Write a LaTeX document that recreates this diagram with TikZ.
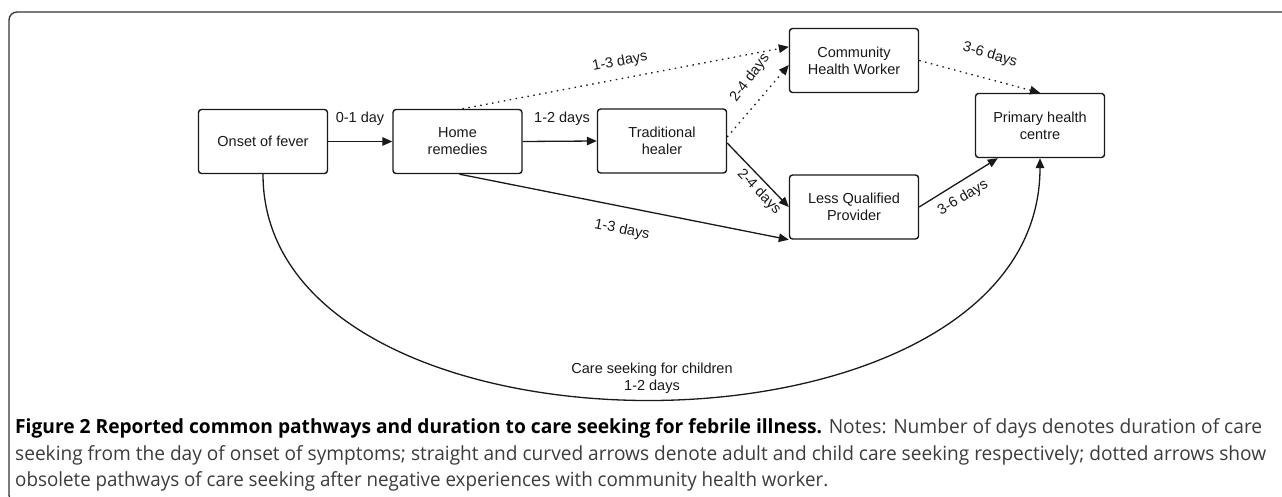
\documentclass[tikz,border=0pt]{standalone}
\usepackage{graphicx}
\usepackage{fontspec}
\setmainfont{Liberation Sans}
\newfontfamily\capfont{Open Sans}
\usetikzlibrary{calc,arrows.meta}
\definecolor{capgray}{RGB}{60,60,60}
\definecolor{ink}{RGB}{25,25,25}
\begin{document}
\begin{tikzpicture}[x=1pt,y=-1pt,
  box/.style={draw=ink, line width=1.4pt, rounded corners=3pt, minimum width=129pt, minimum height=64pt, align=center, font=\fontsize{14.5}{17}\selectfont, inner sep=0pt, fill=white, text=ink},
  lbl/.style={font=\fontsize{14.5}{17}\selectfont, inner sep=0pt, text=ink, align=center},
  conn/.style={line width=1.3pt, -{Triangle[length=10pt,width=8.5pt]}, draw=ink},
  dotconn/.style={conn, dash pattern=on 1.5pt off 4.5pt},
  capline/.style={anchor=base west, inner sep=0pt}
]
\useasboundingbox (0,0) rectangle (1282,497);
\clip (0,0) rectangle (1282,497);
\fill[white] (0,0) rectangle (1282,497);
% frame
\draw[line width=1.3pt, draw=black!80, rounded corners=8pt] (9,12) rectangle (1300,503);

% nodes
\node[box] (onset) at (263,141.5) {Onset of fever};
\node[box] (home) at (457.5,141.5) {Home\\remedies};
\node[box] (trad) at (662,141) {Traditional\\healer};
\node[box] (chw) at (854,60.5) {Community\\Health Worker};
\node[box] (lqp) at (854,207) {Less Qualified\\Provider};
\node[box] (phc) at (1040,125.5) {Primary health\\centre};

% connectors
\draw[conn] (onset.east) -- (home.west);
\draw[conn] (home.east) -- (trad.west);
\draw[dotconn] ($(home.north)+(5,0)$) -- ($(chw.north west)+(0,19)$);
\draw[dotconn] ($(trad.east)+(0,-4)$) -- ($(chw.west)+(0,4.5)$);
\draw[conn] ($(trad.east)+(0,2)$) -- (lqp.west);
\draw[conn] ($(home.south)+(2,0)$) -- (lqp.south west);
\draw[conn] (lqp.east) -- ($(phc.south west)+(23,0)$);
\draw[dotconn] (chw.east) -- (phc.north);
\draw[conn] (onset.south) .. controls (263,477) and (1040,477) .. (phc.south);

% labels
\node[lbl] (l01) at (360,119) {0-1 day};
\node[lbl] (l12) at (562,119) {1-2 days};
\node[lbl,rotate=11] (l13a) at (620,62) {1-3 days};
\node[lbl,rotate=53] (l24a) at (750,78) {2-4 days};
\node[lbl,rotate=-46] (l24b) at (759,192) {2-4 days};
\node[lbl,rotate=-11] (l13b) at (622,230) {1-3 days};
\node[lbl,rotate=31] (l36a) at (963,198) {3-6 days};
\node[lbl,rotate=-16] (l36b) at (990,55) {3-6 days};
\node[lbl] (lcare) at (652,378) {Care seeking for children\\1-2 days};

% caption
\node[capline] (cap1) at (15,433) {\resizebox{1247pt}{\height}{\capfont\fontsize{19.5}{24}\selectfont{\bfseries\color{black}Figure 2 Reported common pathways and duration to care seeking for febrile illness.} \color{capgray}Notes: Number of days denotes duration of care}};
\node[capline] (cap2) at (15,460) {\resizebox{1251pt}{\height}{\capfont\fontsize{19.5}{24}\selectfont\color{capgray}seeking from the day of onset of symptoms; straight and curved arrows denote adult and child care seeking respectively; dotted arrows show}};
\node[capline] (cap3) at (15,486) {\resizebox{813pt}{\height}{\capfont\fontsize{19.5}{24}\selectfont\color{capgray}obsolete pathways of care seeking after negative experiences with community health worker.}};
\end{tikzpicture}
\end{document}
